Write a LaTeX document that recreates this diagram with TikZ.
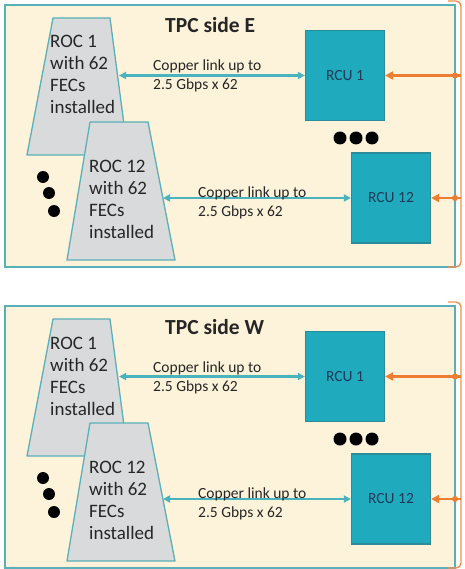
\documentclass[tikz,border=0pt]{standalone}
\usepackage{fontspec}
\setmainfont{Carlito}
\usepackage{xcolor}
\usepackage{tikz}
\usetikzlibrary{positioning,shapes.geometric,arrows.meta}

\definecolor{panelfill}{HTML}{FDF3DA}
\definecolor{panelline}{HTML}{5AAFB8}
\definecolor{rocfill}{HTML}{D8DADC}
\definecolor{rocline}{HTML}{5AAFB8}
\definecolor{rcufill}{HTML}{1FAABD}
\definecolor{rculine}{HTML}{2A8C99}
\definecolor{rcutext}{HTML}{1F3B5A}
\definecolor{linkcol}{HTML}{4BB3BD}
\definecolor{feedcol}{HTML}{ED7D31}

\begin{document}
\begin{tikzpicture}[x=1pt, y=-1pt, >=Stealth,
  panel/.style={draw=panelline, line width=2pt, fill=panelfill, minimum width=450pt, minimum height=262pt, inner sep=0pt, outer sep=0pt},
  roc/.style={draw=rocline, line width=1.3pt, fill=rocfill, line join=round},
  roctext/.style={align=left, inner sep=0pt, font=\fontsize{19}{22}\selectfont, text=black!85},
  rcu/.style={draw=rculine, line width=1.2pt, fill=rcufill, minimum width=79pt, minimum height=90pt, font=\fontsize{15.5}{18}\selectfont, text=rcutext},
  title/.style={inner sep=0pt, font=\bfseries\fontsize{21.5}{25}\selectfont, text=black!85},
  linktext/.style={align=left, inner sep=0pt, font=\fontsize{15.5}{19}\selectfont, text=black!85},
  link/.style={{Triangle[length=7pt,width=7pt]}-{Triangle[length=7pt,width=7pt]}, draw=linkcol, line width=2.2pt},
  feed/.style={-{Triangle[length=8pt,width=8pt]}, draw=feedcol, line width=2.5pt},
  orangebrace/.style={draw=feedcol!85, line width=1.4pt, rounded corners=5pt}]

\useasboundingbox (0,0) rectangle (464,569);

% Two TPC sides, same layout
\foreach \side/\shift in {E/0, W/301} {
\begin{scope}[yshift=-\shift pt]

% Frame and bracket
\node[panel] (panel\side) at (230,136) {};
\coordinate (brtop\side) at (461,1);
\coordinate (brbot\side) at (461,267);
\draw[orangebrace] (448,1) -- (brtop\side) -- (brbot\side) -- (448,267);

% Title
\node[title, anchor=base west] (title\side) at (165,33) {TPC side \side};

% Readout chambers
\draw[roc] (27,155) -- (53,18) -- (110,18) -- (128,155) -- cycle;
\coordinate (roc1\side) at (119,86);
\node[roctext, anchor=base west] (roc1txt\side) at (50,114) {ROC 1\\with 62\\FECs\\installed};
\draw[roc] (67,260) -- (90,122) -- (148,122) -- (175,260) -- cycle;
\coordinate (roc12\side) at (163,198);
\node[roctext, anchor=base west] (roc12txt\side) at (89,238) {ROC 12\\with 62\\FECs\\installed};

% Readout control units
\node[rcu] (rcu1\side) at (345,75.5) {RCU 1};
\node[rcu] (rcu12\side) at (391,198) {RCU 12};

% Copper links
\draw[link] (rcu1\side.west -| roc1\side) -- (rcu1\side.west);
\node[linktext, anchor=base west] (lab1\side) at (153,90) {Copper link up to\\2.5 Gbps x 62};
\draw[link] (rcu12\side.west -| roc12\side) -- (rcu12\side.west);
\node[linktext, anchor=base west] (lab12\side) at (198,216) {Copper link up to\\2.5 Gbps x 62};

% Ellipsis dots
\foreach \x in {340,356,372} {
    \fill (\x,138) circle (6.5pt);
}
\foreach \x/\y in {43/177, 49/193, 54/211} {
    \fill (\x,\y) circle (6pt);
}

% Links to the right
\foreach \r in {1,12} {
    \draw[feed] (rcu\r\side.east -| brtop\side) -- (rcu\r\side.east);
    \fill[feedcol] (rcu\r\side.east -| panel\side.east) circle (3pt);
}

\end{scope}
}

\end{tikzpicture}
\end{document}
